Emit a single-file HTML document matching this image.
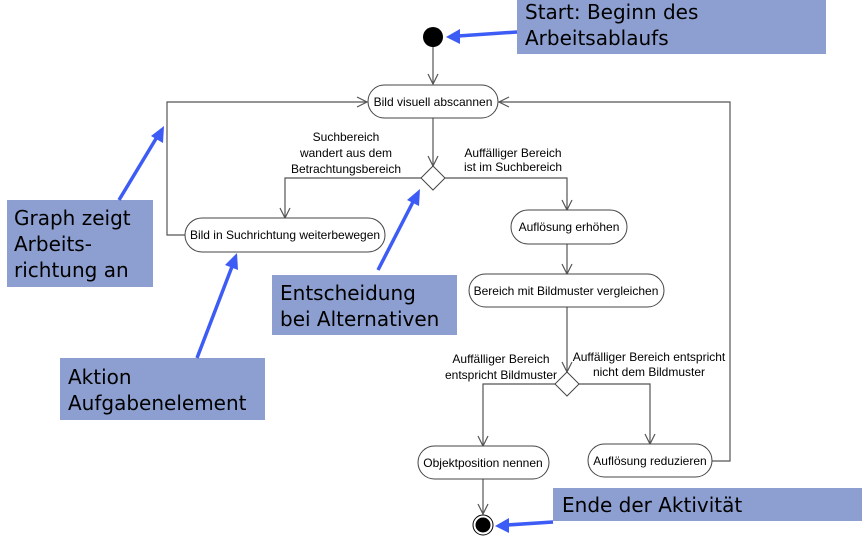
<!DOCTYPE html>
<html><head><meta charset="utf-8"><style>
html,body{margin:0;padding:0;background:#fff;width:866px;height:537px;overflow:hidden}
svg{display:block}
.n{font-family:"Liberation Sans",sans-serif;font-size:12px;fill:#000}
.b{font-family:"DejaVu Sans","Liberation Sans",sans-serif;font-size:20px;fill:#000}
.l{stroke:#555;stroke-width:1.2;fill:none}
.r{stroke:#444;stroke-width:1;fill:#fff}
.bx{fill:#8c9fd0}
.ar{stroke:#3d5cf5;stroke-width:3.5;fill:none}
.ah{fill:#3d5cf5}
</style></head><body>
<svg width="866" height="537" viewBox="0 0 866 537">
<g class="l">
<path d="M433 47V84"/><path d="M428 74l5 10 5-10"/>
<path d="M185 235H167V102H367"/><path d="M357 97l10 5-10 5"/>
<path d="M712 461H730V102H499"/><path d="M509 97l-10 5 10 5"/>
<path d="M433 118V166"/><path d="M428 156l5 10 5-10"/>
<path d="M421 178H285V218"/><path d="M280 208l5 10 5-10"/>
<path d="M445 178H567V210"/><path d="M562 200l5 10 5-10"/>
<path d="M567 244V274"/><path d="M562 264l5 10 5-10"/>
<path d="M567 307V372"/><path d="M562 362l5 10 5-10"/>
<path d="M555 384H483V446"/><path d="M478 436l5 10 5-10"/>
<path d="M579 384H650V444"/><path d="M645 434l5 10 5-10"/>
<path d="M483 479V514"/><path d="M478 504l5 10 5-10"/>
</g>
<circle cx="433" cy="37" r="10" fill="#000"/>
<circle cx="483" cy="525" r="10" fill="#fff" stroke="#000" stroke-width="1"/>
<circle cx="483" cy="525" r="7.5" fill="#000"/>
<rect class="r" x="368" y="85" width="130" height="33" rx="16.5"/>
<text class="n" x="433" y="106" text-anchor="middle">Bild visuell abscannen</text>
<rect class="r" x="185" y="218" width="200" height="34" rx="17"/>
<text class="n" x="285" y="239" text-anchor="middle">Bild in Suchrichtung weiterbewegen</text>
<rect class="r" x="511" y="210" width="116" height="34" rx="17"/>
<text class="n" x="569" y="231" text-anchor="middle">Auflösung erhöhen</text>
<rect class="r" x="469" y="274" width="195" height="33" rx="16.5"/>
<text class="n" x="566" y="295" text-anchor="middle">Bereich mit Bildmuster vergleichen</text>
<rect class="r" x="418" y="446" width="131" height="33" rx="16.5"/>
<text class="n" x="483" y="467" text-anchor="middle">Objektposition nennen</text>
<rect class="r" x="588" y="444" width="124" height="33" rx="16.5"/>
<text class="n" x="650" y="465" text-anchor="middle">Auflösung reduzieren</text>
<path class="r" d="M433 166l12 12-12 12-12-12z"/>
<path class="r" d="M567 372l12 12-12 12-12-12z"/>
<text class="n" x="346" y="141" text-anchor="middle">Suchbereich</text>
<text class="n" x="346" y="157" text-anchor="middle">wandert aus dem</text>
<text class="n" x="346" y="173" text-anchor="middle">Betrachtungsbereich</text>
<text class="n" x="513" y="157" text-anchor="middle">Auffälliger Bereich</text>
<text class="n" x="513" y="171" text-anchor="middle">ist im Suchbereich</text>
<text class="n" x="501" y="363" text-anchor="middle">Auffälliger Bereich</text>
<text class="n" x="501" y="379" text-anchor="middle">entspricht Bildmuster</text>
<text class="n" x="649" y="361" text-anchor="middle">Auffälliger Bereich entspricht</text>
<text class="n" x="649" y="376" text-anchor="middle">nicht dem Bildmuster</text>
<rect class="bx" x="517" y="0" width="309" height="54"/>
<text class="b" x="525" y="19">Start: Beginn des</text>
<text class="b" x="525" y="45">Arbeitsablaufs</text>
<rect class="bx" x="7" y="200" width="146" height="87"/>
<text class="b" x="14" y="225">Graph zeigt</text>
<text class="b" x="14" y="251">Arbeits-</text>
<text class="b" x="14" y="277">richtung an</text>
<rect class="bx" x="272" y="275" width="185" height="60"/>
<text class="b" x="280" y="300">Entscheidung</text>
<text class="b" x="280" y="326">bei Alternativen</text>
<rect class="bx" x="60" y="358" width="205" height="62"/>
<text class="b" x="68" y="384">Aktion</text>
<text class="b" x="68" y="410">Aufgabenelement</text>
<rect class="bx" x="553" y="488" width="309" height="33"/>
<text class="b" x="562" y="512">Ende der Aktivität</text>
<path class="ar" d="M517 32L458 36"/><path class="ah" d="M446 37l14-8v15z"/>
<path class="ar" d="M119 200L157 137"/><path class="ah" d="M164 126l-1 17-12-7z"/>
<path class="ar" d="M378 270L414 200"/><path class="ah" d="M420 189l-1 17-12-6z"/>
<path class="ar" d="M197 358L233 264"/><path class="ah" d="M237 253l1 17-13-5z"/>
<path class="ar" d="M553 522L507 525"/><path class="ah" d="M495 526l14-8v15z"/>
</svg>
</body></html>
